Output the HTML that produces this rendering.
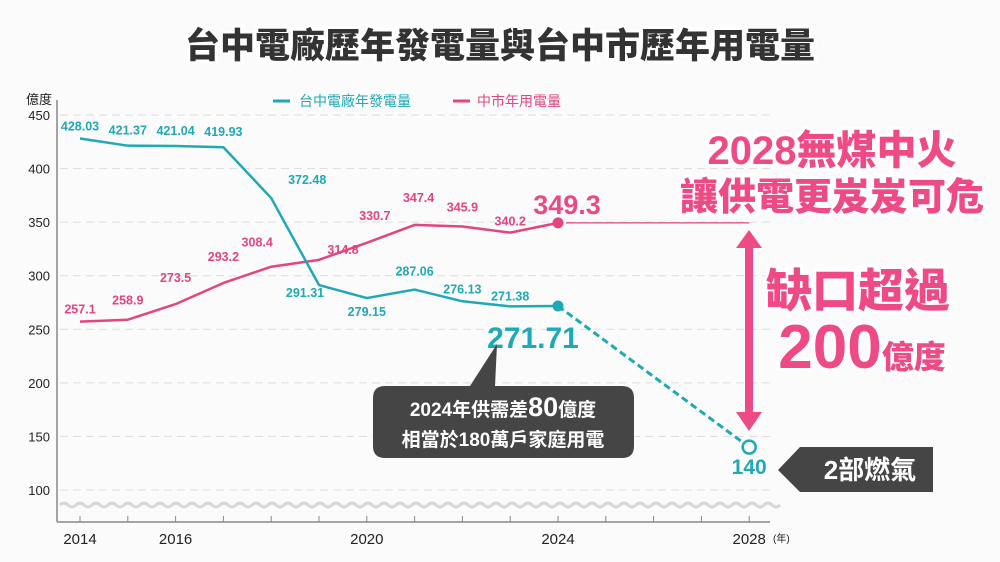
<!DOCTYPE html>
<html><head><meta charset="utf-8">
<style>
html,body{margin:0;padding:0;background:#fbfbfb;}
svg{display:block;font-family:"Liberation Sans","Noto Sans CJK TC",sans-serif;}
</style></head>
<body>
<svg id="chart" width="1000" height="562" viewBox="0 0 1000 562">
  <rect x="0" y="0" width="1000" height="562" fill="#fbfbfb"/>
  <text x="500" y="58" text-anchor="middle" font-size="35" font-weight="900" fill="#333" stroke="#fff" stroke-width="6" paint-order="stroke">台中電廠歷年發電量與台中市歷年用電量</text>
  <g id="grid"></g>
  <g id="axes"></g>
  <g id="series"></g>
  <g id="labels"></g>
  <g id="annot"></g>
</svg>
<script>
const years = [2014,2015,2016,2017,2018,2019,2020,2021,2022,2023,2024];
const plantGen = [428.03,421.37,421.04,419.93,372.48,291.31,279.15,287.06,276.13,271.38,271.71];
const cityUse = [257.1,258.9,273.5,293.2,308.4,314.8,330.7,347.4,345.9,340.2,349.3];
const projYear = 2028;
const projGen = 140;
const yTicks = [100,150,200,250,300,350,400,450];
const xTickLabels = [2014,2016,2020,2024,2028];
const plantLabelOff = [[0,-8],[0,-11],[0,-11],[0,-11],[36,-14],[-14,12],[0,18],[0,-14],[0,-8],[0,-6],[0,0]];
const cityLabelOff = [[0,-8],[0,-15],[0,-22],[0,-22],[-14,-20],[24,-6],[8,-23],[4,-23],[0,-15],[0,-7],[0,0]];

const NS="http://www.w3.org/2000/svg";
const xS = yr => 80 + (yr-2014)*47.8;
const yS = v => 115 + (450-v)*1.0714;
function mk(tag, attrs, parent, text){
  const e=document.createElementNS(NS,tag);
  for(const k in attrs) e.setAttribute(k,attrs[k]);
  if(text!==undefined) e.textContent=text;
  document.getElementById(parent).appendChild(e);
  return e;
}
const TEAL="#1fa8b6", PINK="#e2457f";

yTicks.forEach(v=>{
  const g=mk('line',{x1:60,x2:770,y1:yS(v),y2:yS(v),stroke:"#ddd","stroke-dasharray":"8 5","stroke-width":1},'grid');
  
  
  const t=mk('text',{x:50,y:yS(v)+5,"text-anchor":"end","font-size":13,fill:"#222"},'axes',String(v));
  
  
});
let yt=mk('text',{x:52,y:104,"text-anchor":"end","font-size":13,fill:"#222"},'axes','億度');


let d="M60 505";
for(let x=60;x<770;x+=16){d+=` q4 -4 8 0 q4 4 8 0`;}
let wv=mk('path',{d:d,fill:"none",stroke:"#d8d8d8","stroke-width":3},'axes');


let ya=mk('line',{x1:57,x2:57,y1:100,y2:522,stroke:"#888","stroke-width":1.5},'axes');


let xa=mk('line',{x1:57,x2:770,y1:522,y2:522,stroke:"#888","stroke-width":1.5},'axes');


for(let yr=2014;yr<=2028;yr++){
  const tk=mk('line',{x1:xS(yr),x2:xS(yr),y1:516,y2:522,stroke:"#888"},'axes');
  
  
}
xTickLabels.forEach(yr=>{
  const t=mk('text',{x:xS(yr),y:544,"text-anchor":"middle","font-size":15,fill:"#222"},'axes',String(yr));
  
  
});
let yu=mk('text',{x:773,y:542,"font-size":10,fill:"#222"},'axes','(年)');



let l1=mk('line',{x1:273,x2:290,y1:101,y2:101,stroke:TEAL,"stroke-width":3},'axes');


let l2=mk('text',{x:299,y:106,"font-size":14,fill:TEAL},'axes','台中電廠年發電量');


let l3=mk('line',{x1:453,x2:470,y1:101,y2:101,stroke:PINK,"stroke-width":3},'axes');


let l4=mk('text',{x:477,y:106,"font-size":14,fill:PINK},'axes','中市年用電量');



const last=years.length-1;
let pc=mk('path',{d:years.map((y,i)=>(i?'L':'M')+xS(y)+' '+yS(cityUse[i])).join(' '),fill:"none",stroke:PINK,"stroke-width":2.5,"stroke-linejoin":"round"},'series');


let pp=mk('path',{d:years.map((y,i)=>(i?'L':'M')+xS(y)+' '+yS(plantGen[i])).join(' '),fill:"none",stroke:TEAL,"stroke-width":2.5,"stroke-linejoin":"round"},'series');


let hl=mk('line',{x1:xS(years[last])+8,x2:xS(projYear),y1:yS(cityUse[last]),y2:yS(cityUse[last]),stroke:PINK,"stroke-width":1.2},'series');


let dl=mk('line',{x1:xS(years[last]),x2:xS(projYear),y1:yS(plantGen[last]),y2:yS(projGen),stroke:TEAL,"stroke-width":3,"stroke-dasharray":"7 4"},'series');


let c1=mk('circle',{cx:xS(years[last]),cy:yS(cityUse[last]),r:5.5,fill:PINK},'series');


let c2=mk('circle',{cx:xS(years[last]),cy:yS(plantGen[last]),r:5.5,fill:TEAL},'series');


let c3=mk('circle',{cx:xS(projYear),cy:yS(projGen),r:6.5,fill:"#fff",stroke:TEAL,"stroke-width":2.5},'series');



years.forEach((y,i)=>{
  if(i===last) return;
  const a=mk('text',{x:xS(y)+plantLabelOff[i][0],y:yS(plantGen[i])+plantLabelOff[i][1],"text-anchor":"middle","font-size":12.5,"font-weight":"bold",fill:TEAL},'labels',String(plantGen[i]));
  
  
  const b=mk('text',{x:xS(y)+cityLabelOff[i][0],y:yS(cityUse[i])+cityLabelOff[i][1],"text-anchor":"middle","font-size":12.5,"font-weight":"bold",fill:PINK},'labels',String(cityUse[i]));
  
  
});
let bc=mk('text',{x:xS(years[last])+9,y:yS(cityUse[last])-9,"text-anchor":"middle","font-size":27,"font-weight":"bold",fill:"#e84a84"},'labels',String(cityUse[last]));


let bp=mk('text',{x:xS(years[last])-25,y:yS(plantGen[last])+42,"text-anchor":"middle","font-size":30,"font-weight":"bold",fill:TEAL},'labels',String(plantGen[last]));


let b140=mk('text',{x:xS(projYear),y:yS(projGen)+27,"text-anchor":"middle","font-size":21,"font-weight":"bold",fill:TEAL},'labels',String(projGen));



let cb=mk('path',{d:"M385 386 L470 386 L497 344 L495 386 L622 386 Q634 386 634 398 L634 446 Q634 458 622 458 L385 458 Q373 458 373 446 L373 398 Q373 386 385 386 Z",fill:"#454545"},'annot');


let ct1=mk('text',{x:503,y:416,"text-anchor":"middle","font-size":19,"font-weight":"bold",fill:"#fff"},'annot');


ct1.innerHTML='2024年供需差<tspan font-size="27">80</tspan>億度';
let ct2=mk('text',{x:503,y:446,"text-anchor":"middle","font-size":19,"font-weight":"bold",fill:"#fff"},'annot','相當於180萬戶家庭用電');



let gb=mk('path',{d:"M778 470 L800 447 L933 447 L933 492 L800 492 Z",fill:"#454545"},'annot');


let gt=mk('text',{x:870,y:479,"text-anchor":"middle","font-size":26,"font-weight":"bold",fill:"#fff"},'annot','2部燃氣');



let da=mk('path',{d:"M749 230 L762 248 L753 248 L753 412 L762 412 L749 431 L736 412 L745 412 L745 248 L736 248 Z",fill:"#ee4a86"},'annot');



const hs={"font-weight":"900",fill:"#ee4a86",stroke:"#fff","stroke-width":6,"paint-order":"stroke","text-anchor":"middle"};
let h1=mk('text',Object.assign({x:832,y:164,"font-size":40},hs),'annot','2028無煤中火');


let h2=mk('text',Object.assign({x:832,y:210,"font-size":38},hs),'annot','讓供電更岌岌可危');


let h3=mk('text',Object.assign({x:858,y:307,"font-size":46},hs),'annot','缺口超過');


let h4=mk('text',Object.assign({x:862,y:368,"font-size":62},hs),'annot');


h4.innerHTML='200<tspan font-size="32">億度</tspan>';
</script>
</body></html>
